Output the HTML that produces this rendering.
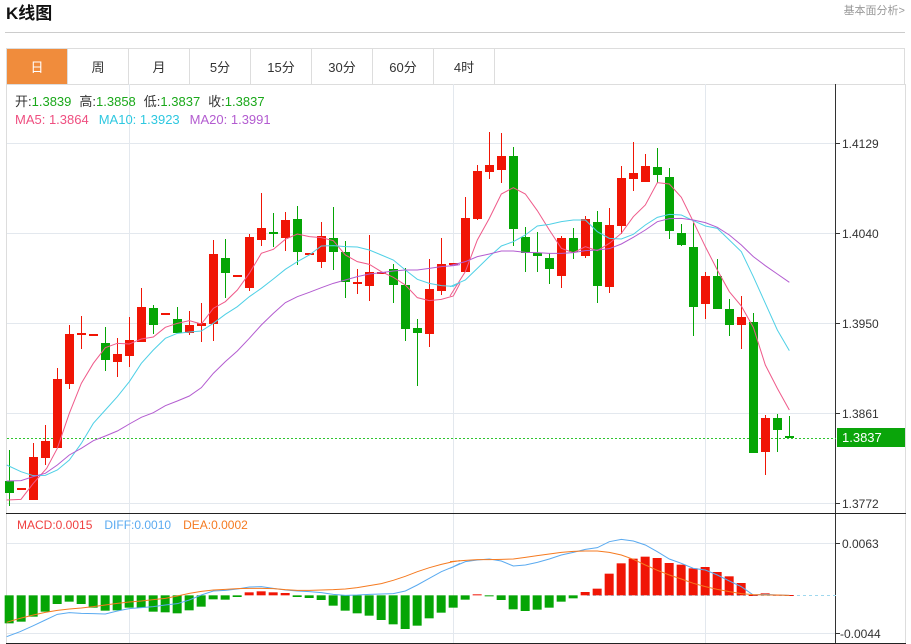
<!DOCTYPE html>
<html><head><meta charset="utf-8"><style>
body{margin:0;width:911px;height:644px;background:#fff;overflow:hidden;font-family:"Liberation Sans","Noto Sans CJK SC",sans-serif;}
</style></head><body>
<svg id="s" width="911" height="644" xmlns="http://www.w3.org/2000/svg" style="position:absolute;left:0;top:0">
<text x="6" y="19" font-size="17" font-weight="bold" fill="#111" font-family="Liberation Sans,Noto Sans CJK SC,sans-serif">K线图</text>
<text x="905" y="14" font-size="11" fill="#999" text-anchor="end" font-family="Liberation Sans,Noto Sans CJK SC,sans-serif">基本面分析&gt;</text>
<line x1="5" y1="32.5" x2="905" y2="32.5" stroke="#ccc"/>
<rect x="6.5" y="48.5" width="898" height="36" fill="#fff" stroke="#ddd"/>
<rect x="7" y="49" width="60" height="35" fill="#f08c3c"/>
<g stroke="#ddd"><line x1="67.5" y1="49" x2="67.5" y2="84"/><line x1="128.5" y1="49" x2="128.5" y2="84"/><line x1="189.5" y1="49" x2="189.5" y2="84"/><line x1="250.5" y1="49" x2="250.5" y2="84"/><line x1="311.5" y1="49" x2="311.5" y2="84"/><line x1="372.5" y1="49" x2="372.5" y2="84"/><line x1="433.5" y1="49" x2="433.5" y2="84"/><line x1="494.5" y1="49" x2="494.5" y2="84"/></g>
<g font-size="13" fill="#333" text-anchor="middle" font-family="Liberation Sans,Noto Sans CJK SC,sans-serif">
<text x="37" y="72" fill="#fff">日</text><text x="98" y="72">周</text><text x="159" y="72">月</text><text x="220" y="72">5分</text><text x="281" y="72">15分</text><text x="342" y="72">30分</text><text x="403" y="72">60分</text><text x="464" y="72">4时</text></g>
<!-- frame -->
<g stroke="#ddd"><line x1="6.5" y1="84" x2="6.5" y2="643"/><line x1="905.5" y1="84" x2="905.5" y2="643"/></g>
<g stroke="#e3e8ee"><line x1="7" y1="143.5" x2="836" y2="143.5"/><line x1="7" y1="233.5" x2="836" y2="233.5"/><line x1="7" y1="323.5" x2="836" y2="323.5"/><line x1="7" y1="413.5" x2="836" y2="413.5"/><line x1="7" y1="503.5" x2="836" y2="503.5"/><line x1="7" y1="543.5" x2="836" y2="543.5"/><line x1="7" y1="633.5" x2="836" y2="633.5"/>
<line x1="129.5" y1="84" x2="129.5" y2="643"/><line x1="453.5" y1="84" x2="453.5" y2="643"/><line x1="705.5" y1="84" x2="705.5" y2="643"/></g>
<line x1="835.5" y1="84" x2="835.5" y2="643" stroke="#333"/>
<line x1="6" y1="513.5" x2="906" y2="513.5" stroke="#222"/>
<line x1="6" y1="643.5" x2="906" y2="643.5" stroke="#222"/>
<g stroke="#333"><line x1="836" y1="143.5" x2="840" y2="143.5"/><line x1="836" y1="233.5" x2="840" y2="233.5"/><line x1="836" y1="323.5" x2="840" y2="323.5"/><line x1="836" y1="413.5" x2="840" y2="413.5"/><line x1="836" y1="503.5" x2="840" y2="503.5"/><line x1="836" y1="543.5" x2="840" y2="543.5"/><line x1="836" y1="633.5" x2="840" y2="633.5"/></g>
<g font-size="12" fill="#333" font-family="Liberation Sans,sans-serif"><text x="842" y="148">1.4129</text><text x="842" y="238">1.4040</text><text x="842" y="328">1.3950</text><text x="842" y="418">1.3861</text><text x="842" y="508">1.3772</text><text x="842" y="548">0.0063</text><text x="840" y="638">-0.0044</text></g>
<line x1="7" y1="438.5" x2="836" y2="438.5" stroke="#2ec52e" stroke-dasharray="2,2"/>
<line x1="587" y1="595.5" x2="836" y2="595.5" stroke="#9fd8ee" stroke-dasharray="3,3"/>
<rect x="837" y="428" width="68" height="19" fill="#0aa50a"/>
<text x="842" y="442" font-size="13" fill="#fff" font-family="Liberation Sans,sans-serif">1.3837</text>
<g id="c"></g>
<g fill="none" stroke-width="3">
<g transform="translate(0,120) scale(0.33333)">
<polyline stroke="#ef5a8a" points="20,1140 63,1138 100,1090 140,1045 172,985 208,880 244,790 280,730 316,683 352,670 388,672 424,657 460,651 496,622 532,610 568,602 604,612 640,565 676,545 712,510 748,460 784,400 820,388 856,358 892,342 928,350 964,353 1000,362 1036,405 1072,425 1108,433 1144,455 1180,472 1216,495 1252,533 1288,542 1324,538 1360,528 1380,490"/>
<polyline stroke="#4fd0e6" points="20,1035 63,1055 100,1067 136,1066 172,1050 208,1020 244,970 280,910 316,870 352,830 388,785 424,730 460,690 496,655 532,640 568,636 604,633 640,610 676,583 712,560 748,530 784,505 820,477 856,448 892,425 928,405 964,378 1000,377 1036,380 1072,381 1108,390 1144,405 1180,420 1216,450 1252,478 1288,490 1324,497 1360,499 1380,488"/>
<polyline stroke="#b35cd0" points="20,1083 63,1082 100,1070 136,1060 172,1035 208,1005 244,985 280,962 316,948 352,933 388,912 424,892 460,878 496,857 532,843 568,828 604,803 640,760 676,725 712,693 748,655 784,615 820,580 856,548 892,530 928,517 964,503 1000,490 1036,480 1072,470 1108,462 1144,458 1180,453 1216,450 1252,450 1288,445 1324,440 1360,437 1380,434"/>
</g>
<g transform="translate(450,120) scale(0.33333)">
<polyline stroke="#ef5a8a" points="0,528 46,455 82,360 118,295 154,222 190,203 226,222 262,272 298,330 334,385 370,398 406,380 442,392 478,370 514,340 550,290 586,255 622,188 658,192 694,232 730,305 766,380 802,450 838,515 874,558 910,622 946,735 982,805 1018,870"/>
<polyline stroke="#4fd0e6" points="0,500 46,480 82,445 118,410 154,378 190,365 226,345 262,318 298,313 334,305 370,300 406,300 442,335 478,355 514,357 550,343 586,315 622,292 658,283 694,285 730,302 766,318 802,325 838,360 874,395 910,470 946,550 982,630 1018,692"/>
<polyline stroke="#b35cd0" points="0,437 46,425 82,410 118,402 154,393 190,393 226,397 262,398 298,400 334,400 370,398 406,392 442,390 478,386 514,372 550,352 586,330 622,305 658,296 694,295 730,300 766,308 802,322 838,345 874,375 910,410 946,437 982,462 1018,487"/>
</g>
<g id="m" transform="translate(0,505) scale(0.33333)"></g>
<g transform="translate(0,505) scale(0.33333)">
<polyline stroke="#5aaaf0" points="20,395 60,380 100,362 136,345 172,328 208,323 244,325 280,326 316,327 352,318 388,311 424,308 460,305 496,300 532,296 568,285 604,270 640,258 676,256 712,252 748,246 784,245 820,250 856,255 892,258 928,260 964,263 1000,268 1036,271 1072,270 1108,268 1144,267 1180,266 1216,258 1252,240 1288,220 1324,200 1360,185 1380,175"/>
<polyline stroke="#f57a20" points="20,352 60,340 100,330 136,322 172,316 208,312 244,309 280,305 316,300 352,295 388,291 424,288 460,284 496,280 532,273 568,265 604,259 640,255 676,253 712,251 748,250 784,250 820,251 856,254 892,256 928,256 964,255 1000,254 1036,252 1072,248 1108,242 1144,236 1180,226 1216,214 1252,200 1288,188 1324,178 1360,170 1380,167"/>
</g>
<g transform="translate(450,505) scale(0.33333)">
<polyline stroke="#5aaaf0" points="0,190 46,170 82,165 118,162 154,168 190,183 226,180 262,172 298,162 334,150 370,142 406,133 442,128 478,110 514,103 550,108 586,120 622,140 658,162 694,175 730,190 766,195 802,210 838,228 874,245 910,270 946,268 982,270 1018,271"/>
<polyline stroke="#f57a20" points="0,170 46,166 82,164 118,164 154,163 190,162 226,157 262,152 298,147 334,142 370,139 406,138 442,138 478,142 514,150 550,163 586,180 622,196 658,210 694,222 730,235 766,245 802,253 838,260 874,266 910,269 946,270 982,270 1018,271"/>
</g>
</g>
<g font-size="13" font-family="Liberation Sans,Noto Sans CJK SC,sans-serif">
<text x="15" y="106"><tspan fill="#333">开:</tspan><tspan fill="#1aa81a">1.3839</tspan><tspan fill="#333" dx="8">高:</tspan><tspan fill="#1aa81a">1.3858</tspan><tspan fill="#333" dx="8">低:</tspan><tspan fill="#1aa81a">1.3837</tspan><tspan fill="#333" dx="8">收:</tspan><tspan fill="#1aa81a">1.3837</tspan></text>
<text x="15" y="124"><tspan fill="#ef4f80">MA5: 1.3864</tspan><tspan fill="#2ec8e0" dx="10">MA10: 1.3923</tspan><tspan fill="#b35cd0" dx="10">MA20: 1.3991</tspan></text>
</g>
<g font-size="12" font-family="Liberation Sans,sans-serif">
<text x="17" y="529"><tspan fill="#f04040">MACD:0.0015</tspan><tspan fill="#5aaaf0" dx="12">DIFF:0.0010</tspan><tspan fill="#f57a20" dx="12">DEA:0.0002</tspan></text>
</g>
</svg>
<script>
var R="#f01505",G="#05a505";
// [up(1)/down(0), bodyTop, bodyBot, high, low]
var k=[[0,481,493,450,506],[1,488,490,488,490],[1,457,500,443,500],[1,441,458,425,465],[1,379,448,368,448],[1,334,384,325,389],[1,333,335,316,349],[1,334,336,334,336],[0,343,360,327,371],[1,354,362,338,377],[1,340,356,317,367],[1,307,342,288,342],[0,308,325,305,334],[1,313,315,313,315],[0,319,333,307,333],[1,325,333,311,335],[1,323,326,303,342],[1,254,324,240,341],[0,258,273,239,298],[1,275,277,275,277],[1,237,288,234,291],[1,228,240,193,246],[0,232,234,213,247],[1,220,238,212,251],[0,219,252,206,265],[1,253,255,253,255],[1,236,262,222,268],[0,238,252,207,270],[0,252,282,241,298],[1,282,284,269,294],[1,272,286,235,301],[1,272,274,272,274],[0,269,285,264,303],[0,285,329,268,341],[0,328,333,319,386],[1,289,334,259,347],[1,264,291,238,295],[1,263,265,263,265],[1,218,272,197,272],[1,171,219,165,220],[1,165,172,132,179],[1,156,170,133,183],[0,156,229,147,246],[0,237,253,227,272],[0,253,256,232,272],[0,258,269,253,284],[1,238,276,236,288],[0,238,252,228,259],[1,219,256,216,258],[0,222,286,211,303],[1,225,287,208,293],[1,178,226,166,234],[1,173,179,142,191],[1,166,182,154,182],[0,167,175,148,183],[0,177,231,168,239],[0,233,245,224,246],[0,247,307,223,336],[1,276,304,272,319],[0,276,309,259,309],[0,309,325,299,336],[1,317,325,296,349],[0,322,453,313,453],[1,418,452,415,475],[0,418,430,414,452],[0,436,438,416,438]];
var h="";
k.forEach(function(c,i){var x=9+12*i,col=c[0]?R:G;
h+='<line x1="'+(x+.5)+'" y1="'+c[3]+'" x2="'+(x+.5)+'" y2="'+c[4]+'" stroke="'+col+'"/>';
var hh=Math.max(2,c[2]-c[1]);h+='<rect x="'+(x-4)+'" y="'+c[1]+'" width="9" height="'+hh+'" fill="'+col+'"/>';});
document.getElementById("c").innerHTML=h;
var m=[355,350,335,320,297,290,297,308,317,316,308,308,320,322,325,316,305,283,284,276,262,259,262,264,276,279,285,302,317,325,332,345,358,372,362,340,323,308,284,268,272,285,313,318,314,308,290,280,261,251,206,175,161,155,159,174,179,190,186,201,214,234,270,265,269,270];
var g="";
m.forEach(function(v,i){var x=(9+12*i)*3,z=271,t=Math.min(v,z),hh=Math.max(3,Math.abs(v-z));
g+='<rect x="'+(x-13)+'" y="'+t+'" width="27" height="'+hh+'" fill="'+(v<z?R:G)+'" stroke="none"/>';});
document.getElementById("m").innerHTML=g;
</script>
</body></html>
